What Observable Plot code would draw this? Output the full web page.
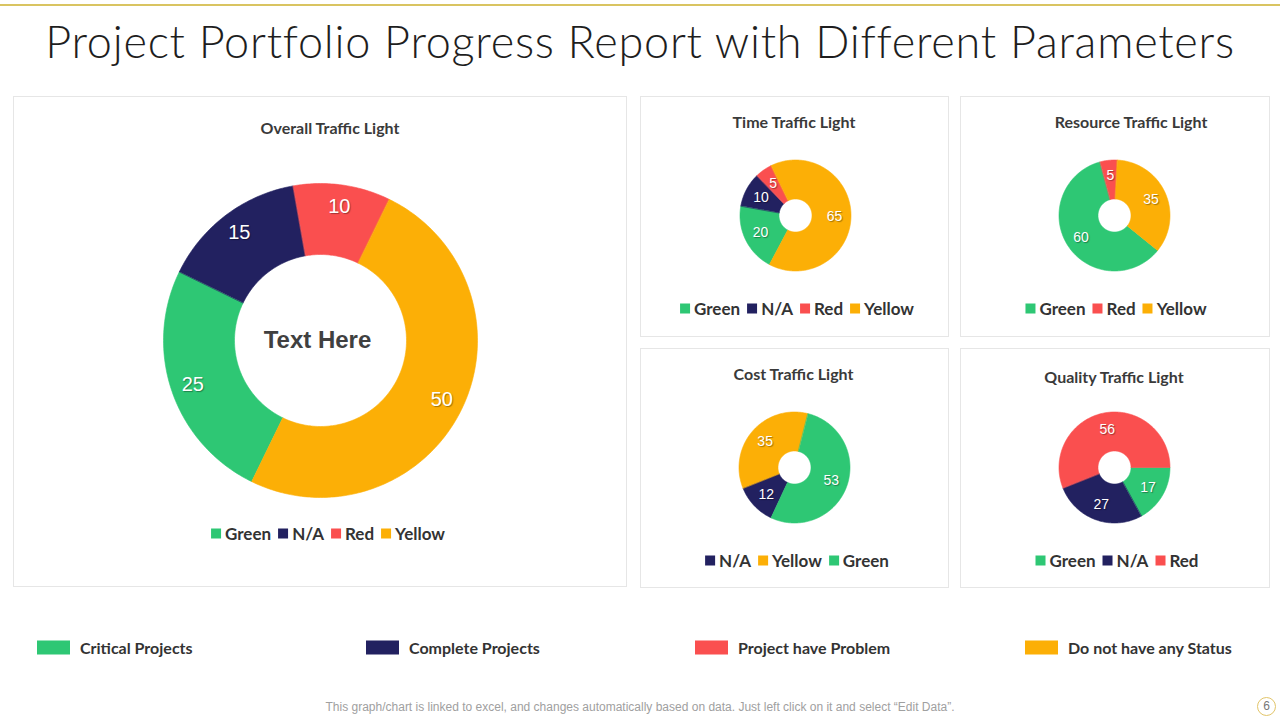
<!DOCTYPE html>
<html><head><meta charset="utf-8">
<script src="https://cdn.jsdelivr.net/npm/d3@7"></script>
<script src="https://cdn.jsdelivr.net/npm/@observablehq/plot@0.6"></script>
<style>
body{margin:0;background:#fff;font-family:Lato,"Open Sans",sans-serif;}
#page{position:relative;width:1280px;height:720px;overflow:hidden;background:#fff;}
.topline{position:absolute;left:0;top:4px;width:1280px;height:2px;background:#d9c461;}
.title{position:absolute;left:0;width:1280px;top:14px;text-align:center;font-size:45px;font-weight:300;color:#1e1e1e;white-space:nowrap;letter-spacing:0.75px;}
.panel{position:absolute;border:1px solid #e6e6e6;box-sizing:border-box;}
.ptitle{position:absolute;transform:translate(-50%,-50%);font-size:16px;color:#3a3a3a;white-space:nowrap;font-weight:700;}
.legend{position:absolute;transform:translate(-50%,-50%);display:flex;gap:7px;font-size:17px;color:#333;white-space:nowrap;font-weight:700;align-items:center;}
.legend span.item{display:flex;align-items:center;}
.sw{display:inline-block;width:10px;height:10px;margin-right:4px;}
.plotbox{position:absolute;}
.plotbox text{text-shadow:1px 1px 1px rgba(0,0,0,0.35);}
.plotbox .center text, .plotbox text.center{text-shadow:none;}
.blegend{position:absolute;top:647px;transform:translateY(-50%);display:flex;align-items:center;font-size:16px;font-weight:700;color:#333;white-space:nowrap;}
.blegend .rect{width:33px;height:14px;margin-right:10px;}
.footer{position:absolute;left:0;width:1280px;top:700px;text-align:center;font-family:"Liberation Sans",Arial,sans-serif;font-size:12px;color:#a0a0a0;white-space:nowrap;}
.pagenum{position:absolute;left:1257px;top:697px;width:19px;height:19px;border:1px solid #e2c56a;border-radius:50%;box-sizing:border-box;text-align:center;font-size:12px;line-height:17px;color:#777;font-family:"Liberation Sans",Arial,sans-serif;}
</style></head>
<body>
<div id="page">
  <div class="topline"></div>
  <div class="title" id="title"></div>
</div>
<script>
// ---------- data ----------
const categories = ["Green", "N/A", "Red", "Yellow"];
const categoryColors = ["#2ec774", "#222160", "#fa4f4f", "#fcaf06"];

const overallLabels = ["Green", "N/A", "Red", "Yellow"];
const overallValues = [25, 15, 10, 50];

const timeLabels = ["Green", "N/A", "Red", "Yellow"];
const timeValues = [20, 10, 5, 65];

const resourceLabels = ["Green", "Red", "Yellow"];
const resourceValues = [60, 5, 35];

const costLabels = ["N/A", "Yellow", "Green"];
const costValues = [12, 35, 53];

const qualityLabels = ["Green", "N/A", "Red"];
const qualityValues = [17, 27, 56];

const statusNames = ["Critical Projects", "Complete Projects", "Project have Problem", "Do not have any Status"];
const pageTitle = "Project Portfolio Progress Report with Different Parameters";
const centerText = "Text Here";
const footerText = "This graph/chart is linked to excel,  and changes automatically based on data. Just left click on it and select \u201cEdit Data\u201d.";
const pageNumber = "6";

// ---------- layout ----------
const page = document.getElementById("page");
document.getElementById("title").textContent = pageTitle;
const colorOf = Object.fromEntries(categories.map((c, i) => [c, categoryColors[i]]));
const catIndex = c => categories.indexOf(c);

function el(tag, cls, style, text) {
  const e = document.createElement(tag);
  if (cls) e.className = cls;
  if (style) Object.assign(e.style, style);
  if (text != null) e.textContent = text;
  return e;
}

function ring(labels, values, startDeg, rIn, rOut, rLab) {
  const total = d3.sum(values);
  const pts = [], labs = [];
  let a = startDeg;
  labels.forEach((c, i) => {
    const span = values[i] / total * 360;
    const a0 = a, a1 = a + span; a = a1;
    const n = Math.max(2, Math.ceil(span));
    const k0 = catIndex(c);
    for (let k = 0; k <= n; k++) {
      const t = (a0 + (a1 - a0) * k / n) * Math.PI / 180;
      pts.push({slice: c, cat: k0, x: rOut * Math.sin(t), y: rOut * Math.cos(t)});
    }
    for (let k = n; k >= 0; k--) {
      const t = (a0 + (a1 - a0) * k / n) * Math.PI / 180;
      pts.push({slice: c, cat: k0, x: rIn * Math.sin(t), y: rIn * Math.cos(t)});
    }
    const m = (a0 + a1) / 2 * Math.PI / 180;
    labs.push({cat: k0, value: values[i], x: rLab * Math.sin(m), y: rLab * Math.cos(m)});
  });
  return {pts, labs};
}

const charts = [
  {title: "Overall Traffic Light", labels: overallLabels, values: overallValues, start: 206,
   panel: [13, 96, 614, 491], tx: 330, ty: 127, cx: 320, cy: 340, S: 340, rOut: 157, rIn: 86, rLab: 135,
   fs: 20, lx: 328, ly: 533, center: true},
  {title: "Time Traffic Light", labels: timeLabels, values: timeValues, start: 208,
   panel: [640, 96, 309, 241], tx: 794, ty: 121, cx: 794.5, cy: 214.5, S: 130, rOut: 55.5, rIn: 16.5, rLab: 39,
   fs: 14, lx: 797, ly: 308},
  {title: "Resource Traffic Light", labels: resourceLabels, values: resourceValues, start: 129,
   panel: [960, 96, 310, 241], tx: 1131, ty: 121, cx: 1113.5, cy: 214.5, S: 130, rOut: 55.5, rIn: 16.5, rLab: 40,
   fs: 14, lx: 1116, ly: 308},
  {title: "Cost Traffic Light", labels: costLabels, values: costValues, start: 205,
   panel: [640, 348, 309, 240], tx: 793.5, ty: 373, cx: 794, cy: 466.5, S: 130, rOut: 55.5, rIn: 16.5, rLab: 39,
   fs: 14, lx: 797, ly: 560},
  {title: "Quality Traffic Light", labels: qualityLabels, values: qualityValues, start: 90,
   panel: [960, 348, 310, 240], tx: 1114, ty: 376, cx: 1113.5, cy: 466.5, S: 130, rOut: 55.5, rIn: 16.5, rLab: 39,
   fs: 14, lx: 1117, ly: 560}
];

charts.forEach(ch => {
  const [px, py, pw, ph] = ch.panel;
  page.appendChild(el("div", "panel", {left: px + "px", top: py + "px", width: pw + "px", height: ph + "px"}));
  page.appendChild(el("div", "ptitle", {left: ch.tx + "px", top: ch.ty + "px"}, ch.title));

  const half = ch.S / 2;
  const {pts, labs} = ring(ch.labels, ch.values, ch.start, ch.rIn / half, ch.rOut / half, ch.rLab / half);
  const marks = [
    Plot.line(pts, {x: "x", y: "y", z: "slice", fill: "cat", stroke: "cat", strokeWidth: 0.6, curve: "linear-closed"}),
    Plot.text(labs, {x: "x", y: "y", text: d => String(d.value), fill: "white", fontSize: ch.fs,
      fontFamily: "'Liberation Sans', Arial, sans-serif"})
  ];
  if (ch.center) {
    marks.push(Plot.text([centerText], {x: () => 0, y: () => 0, dx: -3, text: d => d, fill: "#404040", fontSize: 24,
      fontWeight: "bold", fontFamily: "'Liberation Sans', Arial, sans-serif", className: "center"}));
  }
  const svg = Plot.plot({
    width: ch.S, height: ch.S, margin: 0,
    x: {domain: [-1, 1], axis: null},
    y: {domain: [-1, 1], axis: null},
    color: {type: "ordinal", domain: d3.range(categories.length), range: categoryColors},
    style: {background: "transparent", overflow: "visible"},
    marks
  });
  const box = el("div", "plotbox", {left: (ch.cx - half) + "px", top: (ch.cy - half) + "px", width: ch.S + "px", height: ch.S + "px"});
  box.appendChild(svg);
  page.appendChild(box);

  const lg = el("div", "legend", {left: ch.lx + "px", top: ch.ly + "px"});
  ch.labels.forEach(c => {
    const it = el("span", "item");
    it.appendChild(el("span", "sw", {background: colorOf[c]}));
    it.appendChild(el("span", null, null, c));
    lg.appendChild(it);
  });
  page.appendChild(lg);
});

const bxs = [37, 366, 695, 1025];
statusNames.forEach((s, i) => {
  const b = el("div", "blegend", {left: bxs[i] + "px"});
  b.appendChild(el("div", "rect", {background: categoryColors[i]}));
  b.appendChild(el("span", null, null, s));
  page.appendChild(b);
});
page.appendChild(el("div", "footer", null, footerText));
page.appendChild(el("div", "pagenum", null, pageNumber));
</script>
</body></html>
